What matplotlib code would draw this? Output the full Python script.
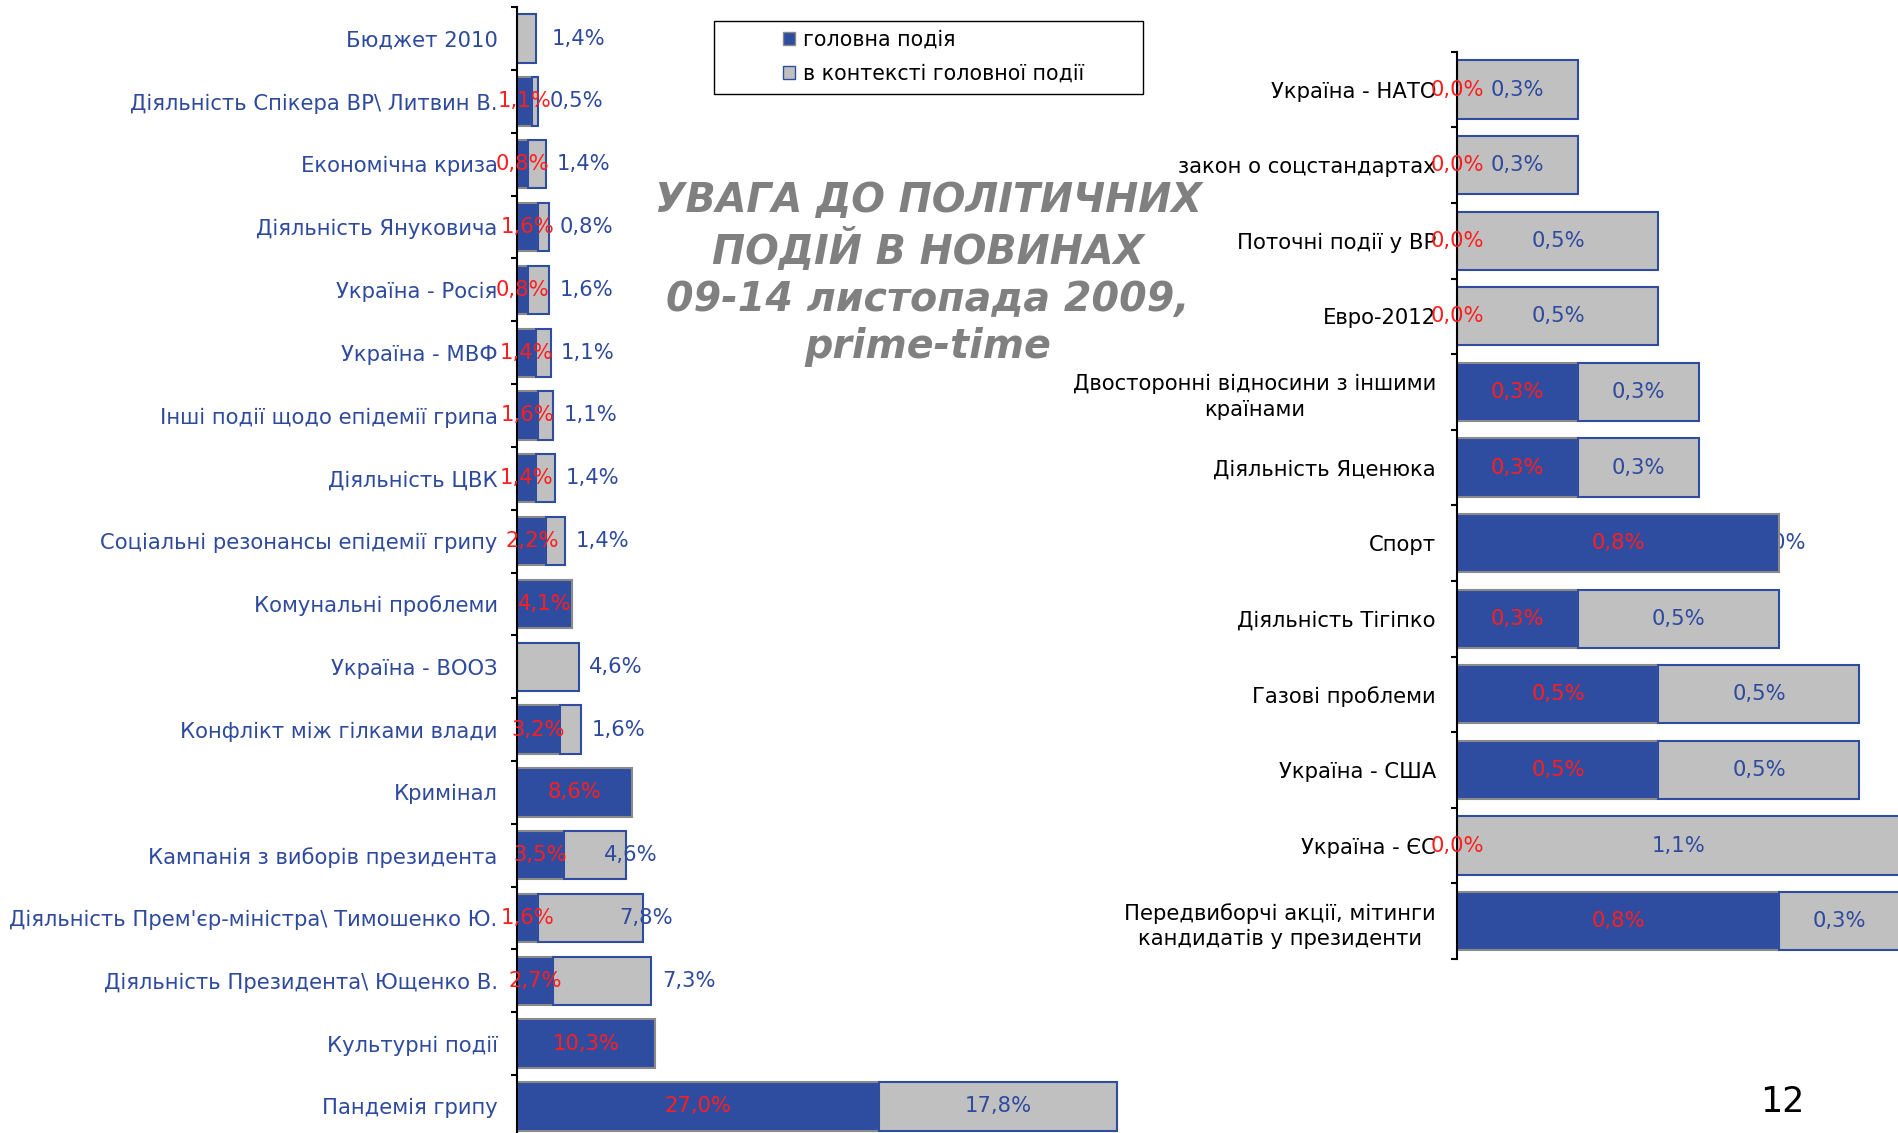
import numpy as np
import matplotlib
matplotlib.use('Agg')
import matplotlib.pyplot as plt
from matplotlib.patches import Patch, Rectangle

plt.rcParams['font.family'] = ['DejaVu Sans']

# left panel, top to bottom
left_labels = [
    'Бюджет 2010',
    'Діяльність Спікера ВР\\ Литвин В.',
    'Економічна криза',
    'Діяльність Януковича',
    'Україна - Росія',
    'Україна - МВФ',
    'Інші події щодо епідемії грипа',
    'Діяльність ЦВК',
    'Соціальні резонансы епідемії грипу',
    'Комунальні проблеми',
    'Україна - ВООЗ',
    'Конфлікт між гілками влади',
    'Кримінал',
    'Кампанія з виборів президента',
    "Діяльність Прем'єр-міністра\\ Тимошенко Ю.",
    'Діяльність Президента\\ Ющенко В.',
    'Культурні події',
    'Пандемія грипу',
]
left_main = [0, 1.1, 0.8, 1.6, 0.8, 1.4, 1.6, 1.4, 2.2, 4.1, 0, 3.2, 8.6, 3.5, 1.6, 2.7, 10.3, 27.0]
left_context = [1.4, 0.5, 1.4, 0.8, 1.6, 1.1, 1.1, 1.4, 1.4, 0, 4.6, 1.6, 0, 4.6, 7.8, 7.3, 0, 17.8]

# right panel, top to bottom
right_labels = [
    'Україна - НАТО',
    'закон о соцстандартах',
    'Поточні події у ВР',
    'Евро-2012',
    'Двосторонні відносини з іншими\nкраїнами',
    'Діяльність Яценюка',
    'Спорт',
    'Діяльність Тігіпко',
    'Газові проблеми',
    'Україна - США',
    'Україна - ЄС',
    'Передвиборчі акції, мітинги\nкандидатів у президенти',
]
right_main = [0, 0, 0, 0, 0.3, 0.3, 0.8, 0.3, 0.5, 0.5, 0, 0.8]
right_context = [0.3, 0.3, 0.5, 0.5, 0.3, 0.3, 0, 0.5, 0.5, 0.5, 1.1, 0.3]

legend_labels = ['головна подія', 'в контексті головної події']
title = 'УВАГА ДО ПОЛІТИЧНИХ\nПОДІЙ В НОВИНАХ\n09-14 листопада 2009,\nprime-time'

BLUE = '#2F4DA0'
GRAY = '#C0C0C0'
EDGE_GRAY = '#8A8A8A'
TEXT_BLUE = '#2E4A9E'
RED = '#FF1E1E'
FS = 15.2

# label offsets (points) for the left "context" labels that sit right of the bar
left_nudge = {'Кампанія з виборів президента': 4,
              "Діяльність Прем'єр-міністра\\ Тимошенко Ю.": 2,
              'Бюджет 2010': 31}


def pct(v):
    return f'{v:.1f}'.replace('.', ',') + '%'


def setup(ax, labels, main, context, xmax, label_color, pad):
    main = np.array(main, dtype=float)
    context = np.array(context, dtype=float)
    y = np.arange(len(labels))
    ax.barh(y, main, height=0.77, color=BLUE, edgecolor=EDGE_GRAY,
            linewidth=np.where(main > 0, 1.5, 0), zorder=2)
    ax.barh(y, context, left=main, height=0.77, color=GRAY, edgecolor=BLUE,
            linewidth=np.where(context > 0, 1.5, 0), zorder=2)
    ax.set_xlim(0, xmax)
    ax.set_ylim(len(labels) - 0.5, -0.5)
    for s in ['top', 'right', 'bottom']:
        ax.spines[s].set_visible(False)
    ax.spines['left'].set_linewidth(1.5)
    ax.spines['left'].set_zorder(3)
    ax.set_xticks([])
    ax.set_yticks(y)
    ax.set_yticklabels(labels, fontsize=FS, color=label_color)
    ax.set_yticks(np.arange(len(labels) + 1) - 0.5, minor=True)
    ax.tick_params(axis='y', which='major', length=0, pad=pad)
    ax.tick_params(axis='y', which='minor', length=4.5, width=1.5, direction='out')
    for t in ax.get_yticklabels():
        t.set_multialignment('center')
        t.set_linespacing(1.35)
    ax.patch.set_alpha(0)
    return main, context


fig = plt.figure(figsize=(18.98, 11.33), dpi=100)

ax_l = fig.add_axes([0.2724, -0.0042, 0.3177, 0.9978])
lm, lc = setup(ax_l, left_labels, left_main, left_context, 45, TEXT_BLUE, 14)
for i, name in enumerate(left_labels):
    m, c = lm[i], lc[i]
    if m > 0:
        ax_l.text(m / 2, i, pct(m), color=RED, ha='center', va='center',
                  fontsize=FS, zorder=4)
    if c > 0:
        if c >= 10:
            ax_l.text(m + c / 2, i, pct(c), color=TEXT_BLUE, ha='center',
                      va='center', fontsize=FS, zorder=4)
        else:
            ax_l.annotate(pct(c), xy=(m + c, i), xytext=(left_nudge.get(name, 27), 0),
                          textcoords='offset points', ha='center', va='center',
                          color=TEXT_BLUE, fontsize=FS, zorder=4,
                          annotation_clip=False)

ax_r = fig.add_axes([0.7679, 0.1536, 0.2321, 0.8007])
rm, rc = setup(ax_r, right_labels, right_main, right_context, 1.0958, 'black', 15.5)
for i in range(len(right_labels)):
    m, c = rm[i], rc[i]
    ax_r.text(m / 2, i, pct(m), color=RED, ha='center', va='center',
              fontsize=FS, zorder=4, clip_on=False)
    ax_r.text(m + c / 2, i, pct(c), color=TEXT_BLUE, ha='center', va='center',
              fontsize=FS, zorder=4 if c > 0 else 1)

# legend with its own frame
handles = [Patch(facecolor=BLUE, edgecolor=EDGE_GRAY, linewidth=1),
           Patch(facecolor=GRAY, edgecolor=BLUE, linewidth=1)]
fig.legend(handles, legend_labels, loc='center left', bbox_to_anchor=(0.4125, 0.9498),
           frameon=False, fontsize=14.8, borderpad=0, borderaxespad=0,
           handlelength=0.6, handleheight=0.6, handletextpad=0.4,
           labelspacing=0.7)
fig.patches.append(Rectangle((0.3762, 0.9167), 0.2259, 0.0651, transform=fig.transFigure,
                             fill=False, edgecolor='black', linewidth=1))

fig.text(0.489, 0.758, title, ha='center', va='center', fontsize=28.5,
         fontweight='bold', fontstyle='italic', color='#808080', linespacing=1.23)
fig.text(0.939, 0.0275, '12', ha='center', va='center', fontsize=25)

fig.savefig('out.png', dpi=100)
